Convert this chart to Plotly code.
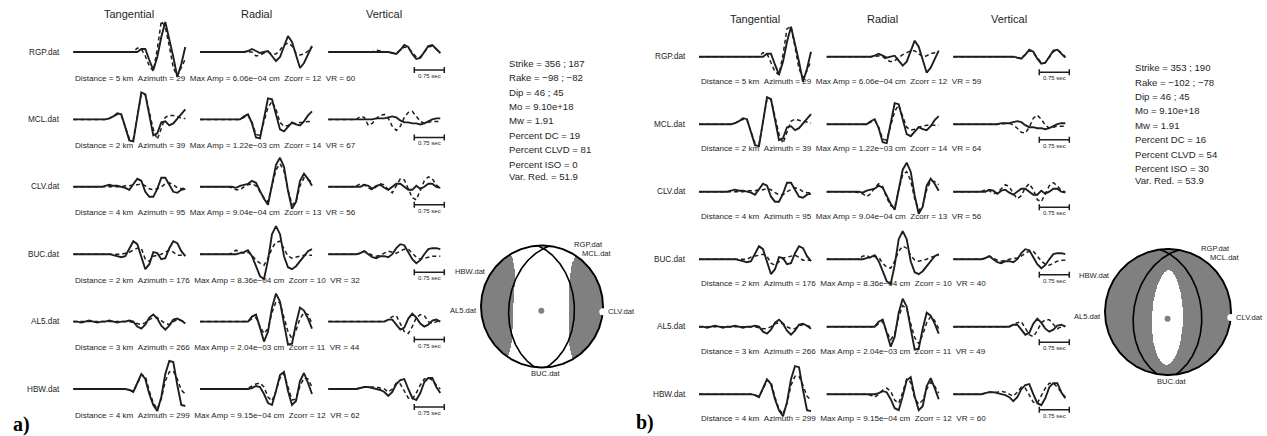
import numpy as np
import plotly.graph_objects as go

W, H = 1267, 436

# ---------------------------------------------------------------- stations
STATIONS = ["RGP", "MCL", "CLV", "BUC", "AL5", "HBW"]
DISTANCE_KM = [5, 2, 4, 2, 3, 4]
AZIMUTH = [29, 39, 95, 176, 266, 299]
MAX_AMP = ["6.06e\u221204", "1.22e\u221203", "9.04e\u221204", "8.36e\u221204", "2.04e\u221203", "9.15e\u221204"]
ZCORR = [12, 14, 13, 10, 11, 12]
VR_A = [60, 67, 56, 32, 44, 62]
VR_B = [59, 64, 56, 40, 49, 60]
COMPONENTS = ["Tangential", "Radial", "Vertical"]

DT = 0.1          # sample interval, s
SCALE_SEC = 0.75  # length of the time scale bar, s

# ---------------------------------------------------------------- inversion results
STRIKE_A, RAKE_A, DIP_A = (356, 187), (-98, -82), (46, 45)
MO_A, MW_A, PDC_A, PCLVD_A, PISO_A, VRED_A = "9.10e+18", 1.91, 19, 81, 0, 51.9
STRIKE_B, RAKE_B, DIP_B = (353, 190), (-102, -78), (46, 45)
MO_B, MW_B, PDC_B, PCLVD_B, PISO_B, VRED_B = "9.10e+18", 1.91, 16, 54, 30, 53.9

# ---------------------------------------------------------------- waveforms (display units)
z = lambda n: [0] * n

RGP_T_OBS = z(17) + [3, 3, -8, -18, -5, 15, 30, 14, -5, -25, -12, 5]
RGP_R_OBS = z(12) + [1, 3, 1, -1, 0, 1, -4, -9, -5, 5, 16, 10, -4, -16, -11, -3, 6]
RGP_Z_OBS = z(16) + [-1, -2, 2, 7, 5, -2, -7, -6, 0, 6, 7, 3, -1]
RGP_T_SYN_A = z(16) + [4, 3, -4, -14, -19, 3, 31, 25, 6, -16, -24, -15, -7]
RGP_R_SYN_A = z(13) + [0, -4, -3, -1, 0, -2, -2, 2, 7, 9, 6, -1, -3, -2, 1, 5]
RGP_Z_SYN_A = z(12) + [2, 1, 0, 0, -1, -1, 2, 5, 4, -1, -5, -5, 0, 5, 6, 3, -1]
RGP_T_SYN_B = z(16) + [4, 3, -6, -15, -18, 2, 28, 30, 10, -12, -21, -14, -4]
RGP_R_SYN_B = z(13) + [1, 0, -3, -5, -4, -1, 2, 4, 6, 6, 3, 0, 1, 3, 4, 5]
RGP_Z_SYN_B = z(16) + [-1, -1, 2, 6, 4, -1, -6, -6, 0, 5, 7, 4, 0]

MCL_T_OBS = z(8) + [0, 1, 3, 6, 5, -8, -21, -22, 3, 27, 25, 5, -16, -14, -3, -2, -6, -4, 1, 6, 10]
MCL_R_OBS = z(11) + [3, 5, -4, -18, -19, 1, 21, 20, 4, -10, -12, -8, -3, -5, -6, -2, 4, 8]
MCL_Z_OBS = z(12) + [1, 1, 1, 2, 3, 2, -1, -3, -3, -4, -4, -5, -4, -2, 0, 1, 1]
MCL_T_SYN_A = z(8) + [0, 1, 3, 5, 4, -7, -19, -20, 2, 25, 25, 7, -10, -20, -10, 2, 4, 4, 3, 1, 1]
MCL_R_SYN_A = z(11) + [2, 4, -3, -15, -16, -2, 12, 18, 10, -3, -7, -6, -4, -4, -3, -3, -2, -2]
MCL_Z_SYN_A = z(7) + [0, 3, 2, -6, -4, 1, 4, 5, 1, -7, -11, -7, 2, 7, 8, 3, -2, -4, -3, -2, -2, -2]
MCL_T_SYN_B = z(8) + [0, 1, 3, 5, 4, -7, -19, -20, 2, 25, 25, 7, -10, -19, -8, 3, 5, 4, 3, 2, 1]
MCL_R_SYN_B = z(11) + [2, 4, -3, -15, -16, -2, 13, 19, 9, -3, -6, -5, -3, -2, -1, -1, -1, -1]
MCL_Z_SYN_B = z(12) + [0, 1, 1, -1, -4, -8, -9, -3, 6, 9, 5, -1, -4, -3, -2, -2, -2]

CLV_T_OBS = z(7) + [0, 1, 2, 1, 1, 0, -1, -3, 2, 8, 6, -5, -10, -10, -2, 9, 9, 2, -5, -6, -3, -2]
CLV_R_OBS = z(8) + [0, -1, 1, 2, 3, 6, 4, -4, -12, -18, 4, 22, 29, 20, -4, -22, -15, 6, 13, 8, 1]
CLV_Z_OBS = z(8) + [0, 2, 1, -2, 1, 2, -1, -3, 0, 3, 3, 0, -3, -3, 1, -2, 0, 3, 3, 0, -1]
CLV_T_SYN_A = z(12) + [0, 1, 1, 2, 2, 3, 1, -2, -3, -2, 0, 3, 4, 2, -1, -2, -1]
CLV_R_SYN_A = z(8) + [-1, -3, -3, 0, 2, 3, 1, -5, -11, -15, 2, 17, 23, 16, -3, -18, -15, 1, 9, 7, 5]
CLV_Z_SYN_A = z(7) + [1, 3, 2, -1, -3, 0, 3, 2, -3, -6, 1, 8, 7, -3, -11, -13, -4, 6, 10, 8, 2, -2]
CLV_T_SYN_B = z(12) + [1, 1, 1, 2, 2, 3, 2, -1, -3, -3, 0, 2, 4, 3, 0, -1, -1]
CLV_R_SYN_B = z(8) + [-1, -2, -5, -2, 4, 8, 5, -6, -14, -16, 2, 17, 20, 11, -7, -19, -14, 2, 11, 10, 7]
CLV_Z_SYN_B = z(7) + [0, 2, 1, -2, -1, 3, 7, 5, -2, -7, -4, 4, 8, 2, -8, -10, -2, 6, 9, 6, 1, 0]

BUC_T_OBS = z(10) + [-1, -2, -3, -2, 6, 13, 10, -3, -15, -10, 2, 1, -5, -4, 6, 13, 11, 3, -2]
BUC_R_OBS = z(10) + [1, 2, 4, -2, -12, -22, -25, -6, 20, 28, 20, -2, -13, -15, -12, -7, -2, 3, 5]
BUC_Z_OBS = z(8) + [1, 3, 0, -3, -4, -2, -2, -3, 0, 6, 10, 9, 2, -5, -9, -6, 0, 5, 6, 6, 5]
BUC_T_SYN_A = z(12) + [0, 1, 2, 4, 6, 6, -5, -7, -2, -1, 0, 2, 4, 2, -1, -1, -1]
BUC_R_SYN_A = z(8) + [1, 4, 2, 1, 2, -1, -6, -9, -11, -4, 6, 12, 13, 5, -2, -4, -3, -2, -1, -1, -1]
BUC_Z_SYN_A = z(8) + [1, 3, 1, -1, -2, -1, 1, 3, 2, 1, 3, 5, 5, 1, -3, -5, -4, -3, -2, -2, -2]
BUC_T_SYN_B = z(12) + [0, 2, 3, 4, 5, 3, -4, -6, -2, 1, 2, 3, 4, 2, -1, -1, -1]
BUC_R_SYN_B = z(9) + [3, 4, 1, 3, 2, -4, -8, -9, -2, 8, 13, 11, 4, -1, -2, -1, 0, 2, 3, 4]
BUC_Z_SYN_B = z(8) + [1, 3, 1, -1, -2, -1, 0, 1, 1, 3, 6, 8, 8, 3, -2, -5, -6, -4, -2, -1, -1]

AL5_T_OBS = [0, 0, -1, 0, 1, 0, -1, 0, 0, 1, 0, -1, 0, 0, 1, 0, -5, -7, -3, 4, 7, 3, -4, -8, -4, 2, 3, 1, -2]
AL5_R_OBS = z(12) + [0, 5, 7, -6, -20, -10, 14, 28, 20, -2, -23, -22, -2, 14, 11, 3, -7]
AL5_Z_OBS = z(14) + [0, 2, 2, -3, -8, -6, 3, 8, 4, -2, -5, -3, 1, 2, 0]
AL5_T_SYN_A = z(14) + [0, -1, -2, -3, -1, 2, 4, 4, 1, -2, -3, 0, 2, 1, 0]
AL5_R_SYN_A = z(12) + [0, 3, 4, -5, -12, -7, 9, 20, 19, 4, -10, -17, -9, 3, 9, 7, -2]
AL5_Z_SYN_A = z(14) + [0, 2, 5, 6, -2, -10, -12, -5, 4, 7, 6, 0, -2, 0, 1]
AL5_T_SYN_B = z(14) + [0, -1, -2, -2, 0, 3, 4, 3, 0, -2, -2, 1, 2, 1, 0]
AL5_R_SYN_B = z(12) + [0, 3, 5, -5, -13, -7, 10, 21, 18, 3, -11, -17, -8, 4, 10, 6, -2]
AL5_Z_SYN_B = z(14) + [0, 2, 4, 5, -1, -8, -10, -4, 4, 7, 7, 2, -2, 0, 1]

HBW_T_OBS = z(14) + [-1, -3, 6, 15, 10, -5, -16, -22, -8, 15, 28, 27, 4, -16, -17]
HBW_R_OBS = z(13) + [1, 3, 2, -5, -14, -16, -2, 14, 17, -2, -16, -12, 8, 16, 6, -5]
HBW_Z_OBS = z(8) + [1, 2, 2, 1, 0, -1, -3, -7, -3, 5, 9, 10, 0, -9, -11, -4, 7, 11, 11, 2, -4]
HBW_T_SYN_A = z(14) + [-1, -2, 5, 14, 13, -2, -14, -20, -10, 8, 17, 18, 10, -1, -5]
HBW_R_SYN_A = z(12) + [1, 3, 5, 6, 2, -8, -12, -2, 11, 15, 2, -11, -10, 3, 11, 10, 2]
HBW_Z_SYN_A = z(8) + [1, 2, 2, 2, 2, 1, 0, -3, 0, 6, 5, -2, -9, -10, -4, 4, 10, 11, 9, 4, 0]
HBW_T_SYN_B = z(14) + [-1, -2, 5, 14, 12, -3, -15, -20, -9, 9, 18, 18, 9, -2, -6]
HBW_R_SYN_B = z(11) + [-1, -3, 0, 4, 6, 3, -6, -9, 2, 15, 12, -4, -10, -6, 5, 12, 8, 1]
HBW_Z_SYN_B = z(8) + [1, 2, 2, 2, 3, 2, 0, -2, 2, 7, 6, -1, -8, -9, -2, 6, 11, 11, 7, 2, -3]

OBS = {
    "RGP": (RGP_T_OBS, RGP_R_OBS, RGP_Z_OBS), "MCL": (MCL_T_OBS, MCL_R_OBS, MCL_Z_OBS),
    "CLV": (CLV_T_OBS, CLV_R_OBS, CLV_Z_OBS), "BUC": (BUC_T_OBS, BUC_R_OBS, BUC_Z_OBS),
    "AL5": (AL5_T_OBS, AL5_R_OBS, AL5_Z_OBS), "HBW": (HBW_T_OBS, HBW_R_OBS, HBW_Z_OBS),
}
SYN_A = {
    "RGP": (RGP_T_SYN_A, RGP_R_SYN_A, RGP_Z_SYN_A), "MCL": (MCL_T_SYN_A, MCL_R_SYN_A, MCL_Z_SYN_A),
    "CLV": (CLV_T_SYN_A, CLV_R_SYN_A, CLV_Z_SYN_A), "BUC": (BUC_T_SYN_A, BUC_R_SYN_A, BUC_Z_SYN_A),
    "AL5": (AL5_T_SYN_A, AL5_R_SYN_A, AL5_Z_SYN_A), "HBW": (HBW_T_SYN_A, HBW_R_SYN_A, HBW_Z_SYN_A),
}
SYN_B = {
    "RGP": (RGP_T_SYN_B, RGP_R_SYN_B, RGP_Z_SYN_B), "MCL": (MCL_T_SYN_B, MCL_R_SYN_B, MCL_Z_SYN_B),
    "CLV": (CLV_T_SYN_B, CLV_R_SYN_B, CLV_Z_SYN_B), "BUC": (BUC_T_SYN_B, BUC_R_SYN_B, BUC_Z_SYN_B),
    "AL5": (AL5_T_SYN_B, AL5_R_SYN_B, AL5_Z_SYN_B), "HBW": (HBW_T_SYN_B, HBW_R_SYN_B, HBW_Z_SYN_B),
}

# ---------------------------------------------------------------- page geometry (pixels)
PX_PER_SEC = 40.0
PANELS = [
    dict(tag="a)", tag_xy=(21, 424), syn=SYN_A, vr=VR_A,
         col_x=[73.3, 200.0, 328.3], row0=52.0, row_step=67.4, info_dy=-26, bar_dy=-18,
         param_xy=(507, 63.3), bb_c=(542, 306.5), bb_r=61,
         strike=STRIKE_A, rake=RAKE_A, dip=DIP_A, mo=MO_A, mw=MW_A,
         pdc=PDC_A, pclvd=PCLVD_A, piso=PISO_A, vred=VRED_A),
    dict(tag="b)", tag_xy=(645, 422), syn=SYN_B, vr=VR_B,
         col_x=[699.0, 826.7, 953.3], row0=56.7, row_step=67.5, info_dy=-24.5, bar_dy=-15.5,
         param_xy=(1133, 67.7), bb_c=(1168, 312), bb_r=63,
         strike=STRIKE_B, rake=RAKE_B, dip=DIP_B, mo=MO_B, mw=MW_B,
         pdc=PDC_B, pclvd=PCLVD_B, piso=PISO_B, vred=VRED_B),
]

FONT = "Liberation Sans, Arial, sans-serif"
INK = "#1e1e1e"
GRAY = "#808080"
NBSP2 = "\u00a0\u00a0"
BB_LABEL_SIZE = 7.6


def fx(px):
    return min(max(px / W, 0.0), 1.0)


def fy(py):
    return min(max(1.0 - py / H, 0.0), 1.0)


fig = go.Figure()
axes_layout = {}
annotations = []
_axis_count = [0]


def new_axes(xdom, ydom, xr, yr):
    _axis_count[0] += 1
    n = _axis_count[0]
    s = "" if n == 1 else str(n)
    axes_layout["xaxis" + s] = dict(domain=xdom, range=xr, visible=False, anchor="y" + s, fixedrange=True)
    axes_layout["yaxis" + s] = dict(domain=ydom, range=yr, visible=False, anchor="x" + s, fixedrange=True)
    return "x" + s, "y" + s


# ---------------------------------------------------------------- focal mechanism helpers
def dc_tensor(strike, dip, rake):
    s, d, r = np.radians([strike, dip, rake])
    mxx = -(np.sin(d) * np.cos(r) * np.sin(2 * s) + np.sin(2 * d) * np.sin(r) * np.sin(s) ** 2)
    myy = np.sin(d) * np.cos(r) * np.sin(2 * s) - np.sin(2 * d) * np.sin(r) * np.cos(s) ** 2
    mzz = np.sin(2 * d) * np.sin(r)
    mxy = np.sin(d) * np.cos(r) * np.cos(2 * s) + 0.5 * np.sin(2 * d) * np.sin(r) * np.sin(2 * s)
    mxz = -(np.cos(d) * np.cos(r) * np.cos(s) + np.cos(2 * d) * np.sin(r) * np.sin(s))
    myz = -(np.cos(d) * np.cos(r) * np.sin(s) - np.cos(2 * d) * np.sin(r) * np.cos(s))
    return np.array([[mxx, mxy, mxz], [mxy, myy, myz], [mxz, myz, mzz]])


def full_tensor(strike, dip, rake, pdc, pclvd, piso):
    w, v = np.linalg.eigh(dc_tensor(strike, dip, rake))
    p_ax, b_ax, t_ax = v[:, 0], v[:, 1], v[:, 2]
    eps = (1.0 - pdc / (pdc + pclvd)) / 2.0
    iso = piso / (100.0 - piso)
    lam_t, lam_b, lam_p = 1.0 + iso, -eps + iso, -(1.0 - eps) + iso
    m = lam_t * np.outer(t_ax, t_ax) + lam_b * np.outer(b_ax, b_ax) + lam_p * np.outer(p_ax, p_ax)
    return m, p_ax


def project(vec):
    n, e, d = vec
    if d < 0:
        n, e, d = -n, -e, -d
    inc = np.arccos(np.clip(d, -1, 1))
    r = np.sqrt(2) * np.sin(inc / 2)
    az = np.arctan2(e, n)
    return r * np.sin(az), r * np.cos(az)


def nodal_curve(strike, dip, n=181):
    s, d = np.radians([strike, dip])
    u = np.array([np.cos(s), np.sin(s), 0.0])
    v = np.array([np.cos(d) * np.cos(s + np.pi / 2), np.cos(d) * np.sin(s + np.pi / 2), np.sin(d)])
    th = np.linspace(0, np.pi, n)
    pts = [project(np.cos(t) * u + np.sin(t) * v) for t in th]
    return [p[0] for p in pts], [p[1] for p in pts]


def label_anchor(az):
    """xanchor, yanchor, xshift, yshift for a station label on the rim."""
    if az < 60:
        return "left", "bottom", 1, 0
    if az < 120:
        return "left", "middle", 4, 0
    if az < 240:
        return "center", "top", 0, -1
    if az < 285:
        return "right", "middle", -3, 0
    return "right", "bottom", -2, 0


def station_labels(xa, ya, radius_px):
    """Rim labels; labels on the same side are nudged apart vertically."""
    items = []
    for st, a in zip(STATIONS, AZIMUTH):
        xan, yan, xs, ys = label_anchor(a)
        x, y = np.sin(np.radians(a)), np.cos(np.radians(a))
        items.append(dict(st=st, x=x, y=y, xan=xan, yan=yan, xs=xs, ys=ys,
                          py=-y * radius_px))
    min_gap = BB_LABEL_SIZE * 1.25
    for side in ("left", "right"):
        grp = sorted([it for it in items if it["xan"] == side], key=lambda it: it["py"], reverse=True)
        for lower, upper in zip(grp, grp[1:]):
            gap = (lower["py"] - lower["ys"]) - (upper["py"] - upper["ys"])
            if 0 <= gap < min_gap:
                upper["ys"] += min_gap - gap
    out = []
    for it in items:
        out.append(dict(text=f"{it['st']}.dat", x=it["x"], y=it["y"], xref=xa, yref=ya,
                        showarrow=False, xanchor=it["xan"], yanchor=it["yan"],
                        xshift=it["xs"], yshift=it["ys"], borderpad=0,
                        font=dict(family=FONT, size=BB_LABEL_SIZE, color=INK)))
    return out


# ---------------------------------------------------------------- draw
for panel in PANELS:
    col_x = panel["col_x"]
    # waveform rows
    for i, st in enumerate(STATIONS):
        yb = panel["row0"] + panel["row_step"] * i
        for j in range(3):
            x0 = col_x[j]
            xa, ya = new_axes([fx(x0 - 0.3 * PX_PER_SEC), fx(x0 + 3.05 * PX_PER_SEC)],
                              [fy(yb + 40), fy(yb - 40)], [-0.3, 3.05], [-40, 40])
            obs = OBS[st][j]
            syn = panel["syn"][st][j]
            t = [DT * k for k in range(len(obs))]
            fig.add_trace(go.Scatter(x=t, y=syn, mode="lines", xaxis=xa, yaxis=ya,
                                     line=dict(color=INK, width=1.5, dash="4px,3px"),
                                     hoverinfo="skip", showlegend=False))
            fig.add_trace(go.Scatter(x=t, y=obs, mode="lines", xaxis=xa, yaxis=ya,
                                     line=dict(color=INK, width=1.9),
                                     hoverinfo="skip", showlegend=False))
            if i == 0:
                annotations.append(dict(text=COMPONENTS[j], x=t[-1] / 2, y=38, xref=xa, yref=ya,
                                        showarrow=False, xanchor="center", yanchor="middle",
                                        font=dict(family=FONT, size=11, color=INK)))
            if j == 0:
                annotations.append(dict(text=f"{st}.dat", x=-0.28, y=0, xref=xa, yref=ya,
                                        showarrow=False, xanchor="right", yanchor="middle",
                                        font=dict(family=FONT, size=8.2, color=INK)))
                info = (f"Distance = {DISTANCE_KM[i]} km{NBSP2}Azimuth = {AZIMUTH[i]}{NBSP2}"
                        f"Max Amp = {MAX_AMP[i]} cm{NBSP2}Zcorr = {ZCORR[i]}{NBSP2}VR = {panel['vr'][i]}")
                annotations.append(dict(text=info, x=0, y=panel["info_dy"], xref=xa, yref=ya,
                                        showarrow=False, xanchor="left", yanchor="middle",
                                        font=dict(family=FONT, size=8.1, color=INK)))
            if j == 2:
                b0 = 2.15
                b1 = b0 + SCALE_SEC
                by = panel["bar_dy"]
                fig.add_trace(go.Scatter(x=[b0, b1, None, b0, b0, None, b1, b1],
                                         y=[by, by, None, by - 3, by + 3, None, by - 3, by + 3],
                                         mode="lines", xaxis=xa, yaxis=ya,
                                         line=dict(color=INK, width=1.5),
                                         hoverinfo="skip", showlegend=False))
                annotations.append(dict(text=f"{SCALE_SEC} sec", x=(b0 + b1) / 2, y=by - 6,
                                        xref=xa, yref=ya, showarrow=False,
                                        xanchor="center", yanchor="middle",
                                        font=dict(family=FONT, size=6, color=INK)))

    # solution summary
    lines = [
        f"Strike = {panel['strike'][0]} ; {panel['strike'][1]}",
        f"Rake = {str(panel['rake'][0]).replace('-', chr(8722))} ; {str(panel['rake'][1]).replace('-', chr(8722))}",
        f"Dip = {panel['dip'][0]} ; {panel['dip'][1]}",
        f"Mo = {panel['mo']}",
        f"Mw = {panel['mw']}",
        f"Percent DC = {panel['pdc']}",
        f"Percent CLVD = {panel['pclvd']}",
        f"Percent ISO = {panel['piso']}",
        f"Var. Red. = {panel['vred']}",
    ]
    px0, py0 = panel["param_xy"]
    for k, txt in enumerate(lines):
        py = py0 + 14.4 * k - (2.5 if k == len(lines) - 1 else 0)
        annotations.append(dict(text=txt, x=fx(px0), y=fy(py), xref="paper", yref="paper",
                                showarrow=False, xanchor="left", yanchor="middle",
                                font=dict(family=FONT, size=9.6, color=INK)))

    # panel tag
    tx, ty = panel["tag_xy"]
    annotations.append(dict(text="<b>" + panel["tag"] + "</b>", x=fx(tx), y=fy(ty),
                            xref="paper", yref="paper", showarrow=False,
                            xanchor="center", yanchor="middle",
                            font=dict(family="Liberation Serif, Times New Roman, serif", size=20, color="black")))

    # beach ball (lower hemisphere, equal area)
    cx, cy = panel["bb_c"]
    r = panel["bb_r"]
    half = r + 6
    lim = half / r
    xa, ya = new_axes([fx(cx - half), fx(cx + half)], [fy(cy + half), fy(cy - half)],
                      [-lim, lim], [-lim, lim])
    m, p_axis = full_tensor(panel["strike"][0], panel["dip"][0], panel["rake"][0],
                            panel["pdc"], panel["pclvd"], panel["piso"])
    g = np.linspace(-1, 1, 321)
    X, Y = np.meshgrid(g, g)
    R = np.hypot(X, Y)
    inc = 2 * np.arcsin(np.clip(R / np.sqrt(2), 0, 1))
    az = np.arctan2(X, Y)
    gam = np.stack([np.sin(inc) * np.cos(az), np.sin(inc) * np.sin(az), np.cos(inc)], axis=-1)
    amp = np.einsum("...i,ij,...j->...", gam, m, gam)
    Z = np.where(R <= 1.0, (amp > 0).astype(float), np.nan)
    fig.add_trace(go.Heatmap(x=g, y=g, z=Z, xaxis=xa, yaxis=ya, zmin=0, zmax=1,
                             colorscale=[[0, "white"], [1, GRAY]], showscale=False,
                             hoverinfo="skip", zsmooth=False))
    for s_, d_ in zip(panel["strike"], panel["dip"]):
        nx, ny = nodal_curve(s_, d_)
        fig.add_trace(go.Scatter(x=nx, y=ny, mode="lines", xaxis=xa, yaxis=ya,
                                 line=dict(color="black", width=1.6),
                                 hoverinfo="skip", showlegend=False))
    th = np.linspace(0, 2 * np.pi, 361)
    fig.add_trace(go.Scatter(x=np.cos(th), y=np.sin(th), mode="lines", xaxis=xa, yaxis=ya,
                             line=dict(color="black", width=1.9),
                             hoverinfo="skip", showlegend=False))
    px_, py_ = project(p_axis)
    fig.add_trace(go.Scatter(x=[px_], y=[py_], mode="markers", xaxis=xa, yaxis=ya,
                             marker=dict(color=GRAY, size=6), hoverinfo="skip", showlegend=False))
    annotations.extend(station_labels(xa, ya, r))
    k_clv = STATIONS.index("CLV")
    a_clv = np.radians(AZIMUTH[k_clv])
    fig.add_trace(go.Scatter(x=[np.sin(a_clv)], y=[np.cos(a_clv)], mode="markers",
                             xaxis=xa, yaxis=ya, marker=dict(color="white", size=7),
                             cliponaxis=False, hoverinfo="skip", showlegend=False))

fig.update_layout(
    width=W, height=H, margin=dict(l=0, r=0, t=0, b=0),
    paper_bgcolor="white", plot_bgcolor="rgba(0,0,0,0)",
    showlegend=False, annotations=annotations, **axes_layout,
)
fig.write_html("out.html", config=dict(displayModeBar=False))
